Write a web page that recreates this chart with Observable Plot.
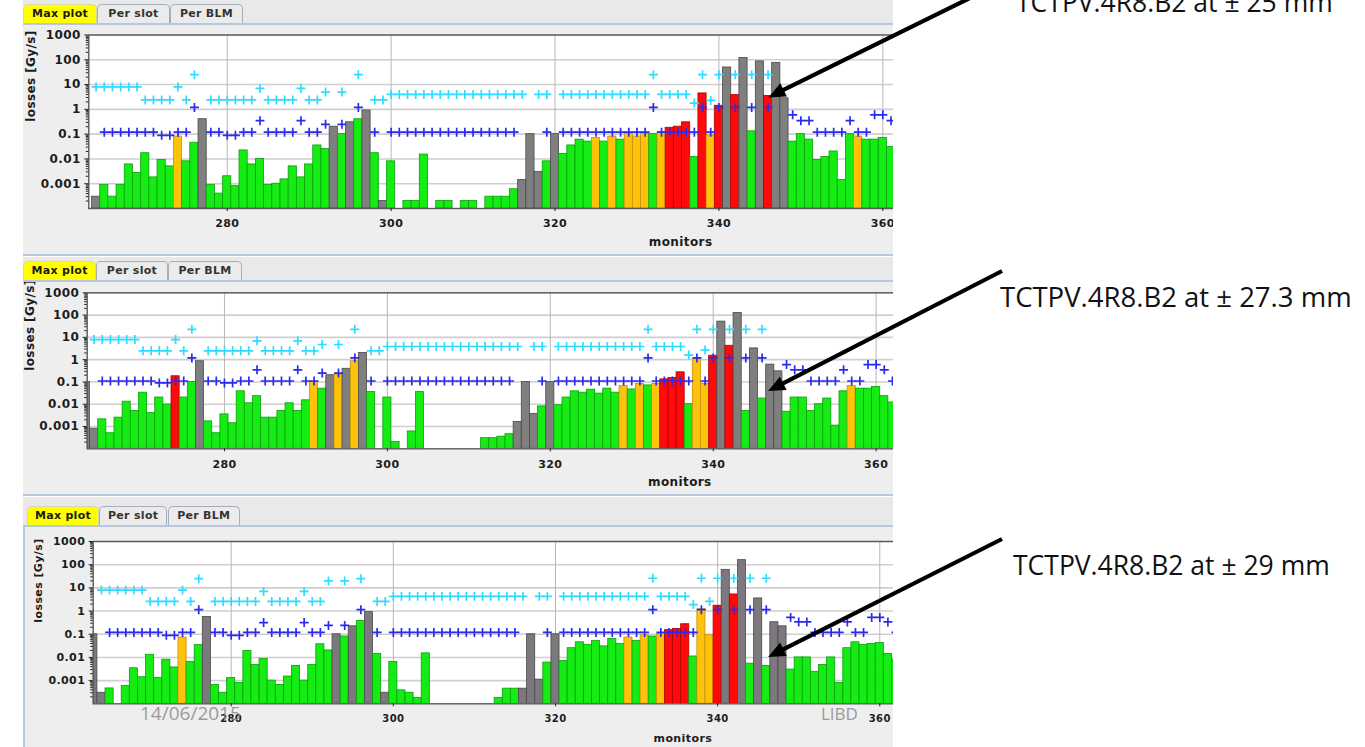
<!DOCTYPE html>
<html>
<head>
<meta charset="utf-8">
<script src="https://cdn.jsdelivr.net/npm/d3@7"></script>
<script src="https://cdn.jsdelivr.net/npm/@observablehq/plot@0.6"></script>
<style>
html,body{margin:0;padding:0;}
body{width:1365px;height:747px;position:relative;overflow:hidden;background:#fff;}
.panel{position:absolute;left:23px;width:870px;background:#eeeeee;overflow:hidden;z-index:1;}
.strip{position:absolute;left:0;top:0;width:870px;background:#e9e9e9;}
.hline{position:absolute;left:0;width:870px;height:2px;background:#b7c8dc;}
.vline{position:absolute;left:0;width:2px;background:#b7c8dc;}
.tab{position:absolute;height:19px;box-sizing:border-box;border:1px solid #a3afbf;border-bottom:none;border-radius:5px 5px 0 0;background:#ebebeb;font:bold 11px "DejaVu Sans",sans-serif;color:#333;text-align:center;line-height:18px;letter-spacing:.3px;white-space:nowrap;}
.tab.sel{background:#ffff00;border-color:#d8d8a8;color:#1a1a1a;}
.chart{position:absolute;left:0;}
.chart svg{display:block;max-width:none;}
.chart svg text{letter-spacing:.4px;}
#overlay{position:absolute;left:0;top:0;pointer-events:none;z-index:10;}
</style>
</head>
<body>
<svg id="overlay" width="1365" height="747"></svg>
<script>
// ---------------- DATA ----------------
const monitors = [
  263,264,265,266,267,268,269,270,271,272,
  273,274,275,276,277,278,279,280,281,282,
  283,284,285,286,287,288,289,290,291,292,
  293,294,295,296,297,298,299,300,301,302,
  303,304,305,306,307,308,309,310,311,312,
  313,314,315,316,317,318,319,320,321,322,
  323,324,325,326,327,328,329,330,331,332,
  333,334,335,336,337,338,339,340,341,342,
  343,344,345,346,347,348,349,350,351,352,
  353,354,355,356,357,358,359,360,361,362
];

const xTicks = [280, 300, 320, 340, 360, 380, 400];
const yTicks = [1000, 100, 10, 1, 0.1, 0.01, 0.001];
const yTickLabels = ["1000", "100", "10", "1", "0.1", "0.01", "0.001"];
const xLabel = "monitors";
const yLabel = "losses [Gy/s]";
const tabNames = ["Max plot", "Per slot", "Per BLM"];

// status per monitor: g = green, o = orange, r = red, k = grey, - = no bar
// ---- panel 1 (± 25 mm)
const p1Loss = [
  null,0.0003,0.0009,0.0003,0.0009,0.006,0.0027,0.017,0.0018,0.009,
  0.005,0.08,0.008,0.045,0.4,0.0009,0.0004,0.002,0.0008,0.022,
  0.006,0.01,0.0009,0.001,0.0015,0.005,0.0018,0.006,0.035,0.025,
  0.2,0.1,0.3,0.4,0.9,0.017,0.0002,0.008,null,0.0002,
  0.0002,0.015,null,0.0002,0.0002,null,0.0002,0.0002,null,0.0003,
  0.0003,0.0003,0.0006,0.0014,0.1,0.003,0.008,0.1,0.016,0.035,
  0.06,0.05,0.07,0.05,0.08,0.06,0.1,0.08,0.1,0.1,
  0.12,0.18,0.2,0.3,0.012,4.4,0.09,1.4,49,3.8,
  117,0.13,86,3.5,75,2.8,0.05,0.1,0.06,0.009,
  0.012,0.02,0.0014,0.1,0.08,0.06,0.06,0.07,0.03,0.015
];
const p1Status = ("-kgggggggg" + "goggkggggg" + "gggggggggg" + "kgkgkgkg-g" + "gg-gg-gg-g" +
                  "gggkkkgkgg" + "ggogogooog" + "orrrgrorkr" + "kgkrkkgggg" + "ggggoggggg").split("");
const p1Thr = [
  null,8,8,8,8,8,8,2.4,2.4,2.4,
  2.4,8,2.4,25,null,2.4,2.4,2.4,2.4,2.4,
  2.4,7,2.4,2.4,2.4,2.4,7,2.4,2.4,5,
  null,5,null,25,null,2.4,2.4,4,4,4,
  4,4,4,4,4,4,4,4,4,4,
  4,4,4,4,null,4,4,null,4,4,
  4,4,4,4,4,4,4,4,4,25,
  4,4,4,4,1.8,25,2.3,25,null,25,
  null,25,null,25,null,null,null,null,null,null,
  null,null,null,null,null,null,null,null,null,null
];
const p1Ref = [
  null,null,0.12,0.12,0.12,0.12,0.12,0.12,0.12,0.09,
  0.09,0.12,0.12,1.2,null,0.12,0.12,0.09,0.09,0.12,
  0.12,0.35,0.12,0.12,0.12,0.12,0.35,0.12,0.12,0.25,
  null,0.25,null,1.2,null,0.12,null,0.12,0.12,0.12,
  0.12,0.12,0.12,0.12,0.12,0.12,0.12,0.12,0.12,0.12,
  0.12,0.12,0.12,null,null,null,0.12,null,0.12,0.12,
  0.12,0.12,0.12,0.12,0.12,0.12,0.12,0.12,0.12,1.2,
  0.12,0.12,0.12,0.12,0.12,1.2,0.12,1.2,null,1.2,
  null,1.2,null,1.2,null,null,0.6,0.35,0.35,0.12,
  0.12,0.12,0.12,0.35,0.12,0.12,0.6,0.6,0.35,0.12
];

// ---- panel 2 (± 27.3 mm)
const p2Loss = [
  0.1,0.0008,0.0021,0.0005,0.0025,0.013,0.005,0.033,0.004,0.02,
  0.0097,0.18,0.02,0.1,0.85,0.0017,0.0005,0.0035,0.0014,0.038,
  0.011,0.023,0.0025,0.0025,0.005,0.011,0.005,0.015,0.1,0.05,
  0.2,0.2,0.39,0.85,2,0.035,null,0.02,0.0002,null,
  0.0006,0.035,null,null,null,null,null,null,null,0.0003,
  0.0003,0.00035,0.00045,0.0016,0.1,0.0037,0.008,0.1,0.009,0.02,
  0.038,0.033,0.045,0.03,0.05,0.033,0.065,0.046,0.08,0.07,
  0.08,0.13,0.15,0.27,0.01,1.05,0.08,1.5,51,4.2,
  125,0.005,3.2,0.018,0.6,0.3,0.0046,0.02,0.02,0.005,
  0.01,0.018,0.0011,0.038,0.065,0.05,0.05,0.06,0.023,0.012
];
const p2Status = ("kkgggggggg" + "grggkggggg" + "ggggggggog" + "kokokg-gg-" + "gg-------g" +
                  "gggkkkgkgg" + "ggggggogog" + "orrrgoorkr" + "kgkgkkgggg" + "ggggoggggg").split("");
const p2Thr = [
  null,8,8,8,8,8,8,2.5,2.5,2.5,
  2.5,8,2.5,23,null,2.5,2.5,2.5,2.5,2.5,
  2.5,7,2.5,2.5,2.5,2.5,7,2.5,2.5,4.8,
  null,4.8,null,23,null,2.5,2.5,3.9,3.9,3.9,
  3.9,3.9,3.9,3.9,3.9,3.9,3.9,3.9,3.9,3.9,
  3.9,3.9,3.9,3.9,null,3.9,3.9,null,3.9,3.9,
  3.9,3.9,3.9,3.9,3.9,3.9,3.9,3.9,3.9,23,
  3.9,3.9,3.9,3.9,1.6,23,2.7,23,null,23,
  null,23,null,23,null,null,null,null,null,null,
  null,null,null,null,null,null,null,null,null,null
];
const p2Ref = [
  null,null,0.11,0.11,0.11,0.11,0.11,0.11,0.11,0.09,
  0.09,0.11,0.11,1.2,null,0.11,0.11,0.09,0.09,0.11,
  0.11,0.35,0.11,0.11,0.11,0.11,0.35,0.11,0.11,0.25,
  null,0.25,null,1.2,null,0.11,null,0.11,0.11,0.11,
  0.11,0.11,0.11,0.11,0.11,0.11,0.11,0.11,0.11,0.11,
  0.11,0.11,0.11,null,null,null,0.11,null,0.11,0.11,
  0.11,0.11,0.11,0.11,0.11,0.11,0.11,0.11,0.11,1.2,
  0.11,0.11,0.11,0.11,0.11,1.2,0.11,1.2,null,1.2,
  null,1.2,null,1.2,null,null,0.6,0.35,0.35,0.11,
  0.11,0.11,0.11,0.35,0.11,0.11,0.6,0.6,0.35,0.11
];

// ---- panel 3 (± 29 mm)
const p3Loss = [
  0.1,0.0003,0.00046,null,0.00058,0.0034,0.0014,0.013,0.0013,0.008,
  0.0037,0.072,0.0063,0.034,0.56,0.00065,0.0003,0.0013,0.0008,0.019,
  0.0047,0.0087,0.001,0.00065,0.0015,0.0043,0.001,0.0047,0.037,0.02,
  0.1,0.08,0.22,0.37,0.9,0.014,0.0003,0.0063,0.00038,0.0003,
  0.00018,0.015,null,null,null,null,null,null,null,null,
  0.00018,0.00045,0.00045,0.00045,0.1,0.0011,0.006,0.1,0.007,0.025,
  0.045,0.035,0.052,0.03,0.063,0.038,0.072,0.052,0.09,0.08,
  0.1,0.15,0.17,0.27,0.011,1.2,0.09,1.7,60,5.2,
  157,0.0054,3.5,0.0043,0.33,0.22,0.003,0.01,0.01,0.0024,
  0.0047,0.01,0.0008,0.025,0.045,0.035,0.038,0.042,0.014,0.008
];
const p3Status = ("kkg-gggggg" + "goggkggggg" + "gggggggggg" + "kgkgkgkggg" + "gg--------" +
                  "gggkkkgkgg" + "ggggggogog" + "orrrgoorkr" + "kgkgkkgggg" + "gggggggggg").split("");
const p3Thr = [
  null,8,8,8,8,8,8,2.6,2.6,2.6,
  2.6,8,2.6,25,null,2.6,2.6,2.6,2.6,2.6,
  2.6,7,2.6,2.6,2.6,2.6,7,2.6,2.6,20,
  null,20,null,25,null,2.6,2.6,4.3,4.3,4.3,
  4.3,4.3,4.3,4.3,4.3,4.3,4.3,4.3,4.3,4.3,
  4.3,4.3,4.3,4.3,null,4.3,4.3,null,4.3,4.3,
  4.3,4.3,4.3,4.3,4.3,4.3,4.3,4.3,4.3,26,
  4.3,4.3,4.3,4.3,1.9,26,2.6,26,null,26,
  null,26,null,26,null,null,null,null,null,null,
  null,null,null,null,null,null,null,null,null,null
];
const p3Ref = [
  null,null,0.12,0.12,0.12,0.12,0.12,0.12,0.12,0.09,
  0.09,0.12,0.12,1.15,null,0.12,0.12,0.09,0.09,0.12,
  0.12,0.32,0.12,0.12,0.12,0.12,0.32,0.12,0.12,0.24,
  null,0.24,null,1.15,null,0.12,null,0.12,0.12,0.12,
  0.12,0.12,0.12,0.12,0.12,0.12,0.12,0.12,0.12,0.12,
  0.12,0.12,0.12,null,null,null,0.12,null,0.12,0.12,
  0.12,0.12,0.12,0.12,0.12,0.12,0.12,0.12,0.12,1.15,
  0.12,0.12,0.12,0.12,0.12,1.15,null,1.15,null,1.15,
  null,1.15,null,1.15,null,null,0.53,0.34,0.34,0.12,
  0.12,0.12,0.12,0.34,0.12,0.12,0.53,0.53,0.34,0.12
];

// annotations: label text and the (monitor, loss) point each arrow points at
const annotationTexts = ["TCTPV.4R8.B2 at ± 25 mm", "TCTPV.4R8.B2 at ± 27.3 mm", "TCTPV.4R8.B2 at ± 29 mm"];
const arrowTargets = [[346.1, 2.9], [346.8, 0.037], [346.3, 0.01]];
const footerDate = "14/06/2015";
const footerTag = "LIBD";

// ---------------- STYLE / LAYOUT ----------------
const fills = {g: "#14ec14", o: "#ffc20a", r: "#fe0a0a", k: "#7f7f7f"};
const strokes = {g: "#0a9f0a", o: "#c6900a", r: "#b00000", k: "#4a4a4a"};
const cyanColor = "#2fdcff";
const blueColor = "#2a2af0";
const W = 1249;

const layouts = [
  {top: 0, height: 256, tabTop: 4, tabs: [[0,74],[74,147],[147,220]], lineTop: 23, svgTop: 25, svgH: 231,
   mt: 9.5, mb: 48, ml: 65.3, x0: 263.11, ppm: 8.195, yDx: -58, xDy: 37, fs: {x: 11, y: 12, lab: 12},
   gray: "#7f7f7f", leftBorder: false, bottomLine: 254},
  {top: 257, height: 239, tabTop: 4, tabs: [[0.3,73],[73,145],[145,219]], lineTop: 23, svgTop: 25, svgH: 214,
   mt: 10.3, mb: 47.7, ml: 63.7, x0: 263.15, ppm: 8.146, yDx: -57.5, xDy: 37.5, fs: {x: 11, y: 12, lab: 12},
   gray: "#7f7f7f", leftBorder: false, bottomLine: 237},
  {top: 497, height: 250, tabTop: 9, tabs: [[3.7,76.3],[76.3,144],[144.5,217]], lineTop: 28, svgTop: 30, svgH: 220,
   mt: 14, mb: 43.7, ml: 69.7, x0: 262.98, ppm: 8.1075, yDx: -54.7, xDy: 38.5, fs: {x: 10, y: 11, lab: 11},
   gray: "#7c787e", leftBorder: true, bottomLine: null}
];
const annotationLayout = [
  {tx: 1016, ty: 12, size: 26.5, from: [972, -3]},
  {tx: 1000, ty: 307, size: 27.5, from: [1002, 271]},
  {tx: 1013, ty: 575, size: 26.5, from: [1002, 539]}
];

const panelsData = [
  {loss: p1Loss, status: p1Status, thr: p1Thr, ref: p1Ref},
  {loss: p2Loss, status: p2Status, thr: p2Thr, ref: p2Ref},
  {loss: p3Loss, status: p3Status, thr: p3Thr, ref: p3Ref}
];

const minorTicks = [...yTicks, 0.0001].flatMap(d => [2,3,4,5,6,7,8,9].map(k => d * k)).filter(v => v < 1000);

function div(cls, style, parent, text) {
  const e = document.createElement("div");
  e.className = cls;
  Object.assign(e.style, style);
  if (text != null) e.textContent = text;
  parent.appendChild(e);
  return e;
}

const plots = [];
layouts.forEach((L, pi) => {
  const D = panelsData[pi];
  const panel = div("panel", {top: L.top + "px", height: L.height + "px"}, document.body);
  div("strip", {height: L.lineTop + "px"}, panel);
  L.tabs.forEach(([a, b], ti) => {
    div(ti === 0 ? "tab sel" : "tab", {left: a + "px", width: (b - a) + "px", top: L.tabTop + "px"}, panel, tabNames[ti]);
  });
  div("hline", {top: L.lineTop + "px"}, panel);
  if (L.bottomLine != null) div("hline", {top: L.bottomLine + "px"}, panel);
  if (L.leftBorder) div("vline", {top: (L.lineTop + 2) + "px", height: (L.height - L.lineTop) + "px"}, panel);

  const bars = monitors.map((m, i) => ({m, v: D.loss[i], s: D.status[i]})).filter(d => d.v != null && d.s !== "-");
  const cy = monitors.map((m, i) => ({m, v: D.thr[i]})).filter(d => d.v != null);
  const bl = monitors.map((m, i) => ({m, v: D.ref[i]})).filter(d => d.v != null);
  const fillOf = Object.assign({}, fills, {k: L.gray});

  const x1 = L.x0 + (W - L.ml) / L.ppm;
  const plot = Plot.plot({
    width: W, height: L.svgH,
    marginLeft: L.ml, marginRight: 0, marginTop: L.mt, marginBottom: L.mb,
    x: {domain: [L.x0, x1], axis: null},
    y: {type: "log", domain: [1e-4, 1e3], axis: null},
    color: {type: "identity"},
    style: {fontFamily: "'DejaVu Sans', sans-serif", fontSize: L.fs.x + "px", fontWeight: "bold",
            color: "#1c1c1c", background: "transparent", maxWidth: "none"},
    marks: [
      Plot.frame({fill: "white", stroke: null}),
      Plot.gridY(yTicks, {stroke: "#cfcfcf", strokeOpacity: 1, strokeWidth: 1.6}),
      Plot.gridX(xTicks, {stroke: "#b8b8b8", strokeOpacity: 1, strokeWidth: 1}),
      Plot.rect(bars, {x1: d => d.m - 0.5, x2: d => d.m + 0.5, y1: 1e-4, y2: "v",
                       fill: d => fillOf[d.s], stroke: d => strokes[d.s], strokeWidth: 0.8, clip: true}),
      Plot.dot(cy, {x: "m", y: "v", symbol: "plus", r: 3, stroke: cyanColor, strokeWidth: 1.7, clip: true}),
      Plot.dot(bl, {x: "m", y: "v", symbol: "plus", r: 3, stroke: blueColor, strokeWidth: 1.7, clip: true}),
      Plot.frame({stroke: "#5a5a5a", strokeWidth: 1.4}),
      Plot.axisY({ticks: minorTicks, tickSize: 2.5, tickFormat: () => "", label: null, stroke: "#222"}),
      Plot.axisY({ticks: yTicks, tickSize: 4, tickPadding: 4, label: null, stroke: "#222",
                  tickFormat: d => yTickLabels[yTicks.indexOf(d)], fontSize: L.fs.y}),
      Plot.axisX({ticks: xTicks, tickSize: 3, tickPadding: 8, label: null, stroke: "#222",
                  tickFormat: d => String(d), fontSize: L.fs.x}),
      Plot.text([xLabel], {frameAnchor: "bottom", dy: L.xDy, text: d => d, fontSize: L.fs.lab, fontWeight: "bold", fill: "#1c1c1c"}),
      Plot.text([yLabel], {frameAnchor: "left", dx: L.yDx, rotate: -90, text: d => d, fontSize: L.fs.lab, fontWeight: "bold", fill: "#1c1c1c"})
    ]
  });
  const holder = div("chart", {top: L.svgTop + "px"}, panel);
  holder.appendChild(plot);
  plots.push(plot);
});

// ---------------- OVERLAY: annotations ----------------
const NS = "http://www.w3.org/2000/svg";
const ov = document.getElementById("overlay");
function sv(tag, attrs, text) {
  const e = document.createElementNS(NS, tag);
  for (const k in attrs) e.setAttribute(k, attrs[k]);
  if (text != null) e.textContent = text;
  ov.appendChild(e);
  return e;
}
annotationLayout.forEach((A, i) => {
  const L = layouts[i];
  const p = plots[i];
  const tx = 23 + p.scale("x").apply(arrowTargets[i][0]);
  const ty = L.top + L.svgTop + p.scale("y").apply(arrowTargets[i][1]);
  const [sx, sy] = A.from;
  const dx = tx - sx, dy = ty - sy, len = Math.hypot(dx, dy);
  const ux = dx / len, uy = dy / len;
  const hl = 17, hw = 7.5;
  const bx = tx - ux * hl, by = ty - uy * hl;
  sv("line", {x1: sx, y1: sy, x2: bx + ux * 3, y2: by + uy * 3, stroke: "#000", "stroke-width": 4.2});
  sv("polygon", {points: `${tx},${ty} ${bx - uy * hw},${by + ux * hw} ${bx + uy * hw},${by - ux * hw}`, fill: "#000"});
  sv("text", {x: A.tx, y: A.ty, "font-family": "'Open Sans', sans-serif", "font-size": A.size, fill: "#111"}, annotationTexts[i]);
});
sv("text", {x: 140, y: 720, "font-family": "'Open Sans', sans-serif", "font-size": 19, fill: "#8a8a8a", "fill-opacity": 0.85}, footerDate);
sv("text", {x: 821, y: 720, "font-family": "'Open Sans', sans-serif", "font-size": 17, fill: "#8a8a8a", "fill-opacity": 0.85}, footerTag);
</script>
</body>
</html>
